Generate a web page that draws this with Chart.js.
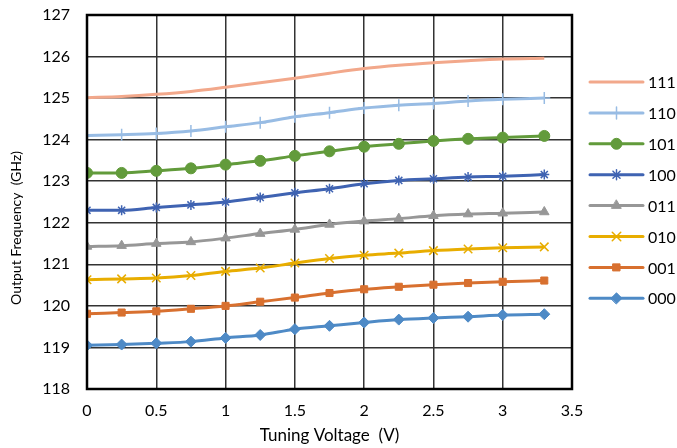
<!DOCTYPE html>
<html><head><meta charset="utf-8">
<script src="https://cdn.jsdelivr.net/npm/chart.js@4/dist/chart.umd.min.js"></script>
<style>html,body{margin:0;padding:0;background:#fff}#wrap{width:677px;height:448px}</style>
</head><body><div id="wrap"><canvas id="c" width="677" height="448"></canvas></div>
<script>
const voltages = [0,0.25,0.5,0.75,1.0,1.25,1.5,1.75,2.0,2.25,2.5,2.75,3.0,3.3];
const labels = ['000','001','010','011','100','101','110','111'];
const f000 = [119.05,119.07,119.10,119.14,119.23,119.30,119.44,119.52,119.60,119.67,119.71,119.74,119.78,119.80];
const f001 = [119.81,119.84,119.87,119.93,120.00,120.10,120.20,120.31,120.40,120.46,120.51,120.55,120.58,120.61];
const f010 = [120.63,120.65,120.67,120.73,120.83,120.91,121.03,121.14,121.22,121.27,121.33,121.37,121.40,121.42];
const f011 = [121.43,121.45,121.50,121.54,121.63,121.74,121.84,121.96,122.04,122.10,122.17,122.21,122.23,122.26];
const f100 = [122.30,122.30,122.37,122.43,122.50,122.61,122.72,122.82,122.94,123.02,123.06,123.10,123.12,123.16];
const f101 = [123.20,123.20,123.25,123.31,123.40,123.49,123.61,123.72,123.83,123.90,123.97,124.02,124.05,124.09];
const f110 = [124.10,124.12,124.15,124.21,124.31,124.41,124.55,124.65,124.76,124.83,124.87,124.93,124.97,125.00];
const f111 = [125.01,125.04,125.09,125.16,125.26,125.37,125.48,125.60,125.71,125.79,125.85,125.90,125.94,125.96];
const yTicks = [118,119,120,121,122,123,124,125,126,127];
const xTicks = [0,0.5,1,1.5,2,2.5,3,3.5];
const xTitle = 'Tuning Voltage  (V)';
const yTitle = 'Output Frequency  (GHz)';

const series = [f000,f001,f010,f011,f100,f101,f110,f111];
const colors = ['#4E8AC6','#D8702F','#E8AD00','#979797','#3F63B2','#629B3B','#98BCE4','#F2A88B'];
const shapes = ['rectRot','rect','crossRot','triangle','star','circle','cross',false];
const radii = [5.5,5,6,5.5,5,5.5,6,0];

const datasets = series.map((s,i)=>({
  label: labels[i],
  data: voltages.map((v,j)=>({x:v,y:s[j]})),
  borderColor: colors[i],
  backgroundColor: colors[i],
  borderWidth: 3,
  pointStyle: shapes[i] || 'circle',
  pointRadius: radii[i],
  pointBorderWidth: (shapes[i]==='cross'||shapes[i]==='crossRot'||shapes[i]==='star') ? 1.5 : 1,
  cubicInterpolationMode: 'monotone',
  tension: 0.4
}));

const FONT = 'Lato, "Open Sans", sans-serif';

const legendPlugin = {
  id: 'customLegend',
  afterDraw(chart) {
    const ctx = chart.ctx;
    const ds = chart.data.datasets;
    const x0 = 590, x1 = 643, y0 = 82, dy = 30.9;
    for (let k = 0; k < ds.length; k++) {
      const i = ds.length - 1 - k;
      const d = ds[i];
      const y = y0 + k*dy;
      ctx.save();
      ctx.strokeStyle = d.borderColor;
      ctx.lineWidth = 3;
      ctx.lineCap = 'round';
      ctx.beginPath(); ctx.moveTo(x0,y); ctx.lineTo(x1,y); ctx.stroke();
      if (d.pointRadius > 0) {
        ctx.fillStyle = d.backgroundColor;
        ctx.strokeStyle = d.borderColor;
        ctx.lineWidth = d.pointBorderWidth;
        Chart.helpers.drawPoint(ctx, {pointStyle: d.pointStyle, radius: d.pointRadius, rotation: 0, borderWidth: d.pointBorderWidth}, (x0+x1)/2, y);
      }
      ctx.fillStyle = '#000';
      ctx.font = '16px ' + FONT;
      ctx.textBaseline = 'middle';
      ctx.textAlign = 'left';
      ctx.fillText(d.label, 648, y+1);
      ctx.restore();
    }
    const a = chart.chartArea;
    ctx.save();
    ctx.strokeStyle = '#000';
    ctx.lineWidth = 2.5;
    ctx.strokeRect(a.left, a.top, a.right-a.left, a.bottom-a.top);
    ctx.fillStyle = '#000';
    ctx.textAlign = 'center';
    ctx.textBaseline = 'middle';
    ctx.font = '17px ' + FONT;
    ctx.fillText(xTitle, (a.left+a.right)/2, 436);
    ctx.translate(16, 228);
    ctx.rotate(-Math.PI/2);
    ctx.font = '14px ' + FONT;
    ctx.fillText(yTitle, 0, 0);
    ctx.restore();
  }
};

new Chart(document.getElementById('c'), {
  type: 'line',
  data: { datasets },
  options: {
    responsive: false,
    animation: false,
    layout: { autoPadding: false, padding: { left: 0, right: 105, top: 15, bottom: 0 } },
    plugins: { legend: { display: false }, tooltip: { enabled: false } },
    scales: {
      x: {
        type: 'linear', min: 0, max: 3.5,
        afterBuildTicks: s => { s.ticks = xTicks.map(v=>({value:v})); },
        afterFit: s => { s.height = 59; s.paddingLeft = 0; s.paddingRight = 0; },
        grid: { color: '#333', lineWidth: 1.5, drawTicks: false },
        border: { display: false },
        ticks: { color: '#000', font: { family: FONT, size: 16 }, padding: 12, maxRotation: 0,
                 callback: v => String(v) }
      },
      y: {
        type: 'linear', min: 118, max: 127,
        afterBuildTicks: s => { s.ticks = yTicks.map(v=>({value:v})); },
        afterFit: s => { s.width = 87; s.paddingTop = 9; s.paddingBottom = 0; },
        grid: { color: '#333', lineWidth: 1.5, drawTicks: false },
        border: { display: false },
        ticks: { color: '#000', font: { family: FONT, size: 16 }, padding: 17 }
      }
    }
  },
  plugins: [legendPlugin]
});
</script></body></html>
